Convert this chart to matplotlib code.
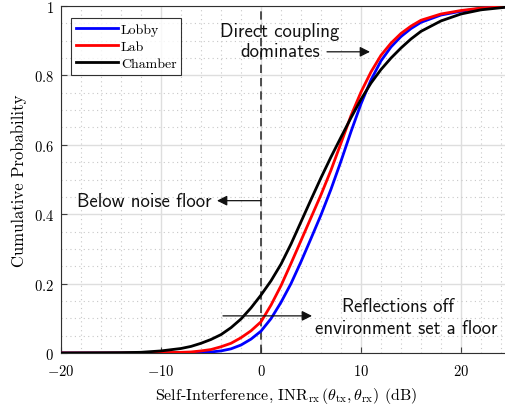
import matplotlib
matplotlib.use("Agg")
import matplotlib.pyplot as plt
from matplotlib.ticker import MultipleLocator, FixedLocator, FixedFormatter

# ---- data ----
x_db = [-20, -18, -16, -14, -12, -10, -8, -7, -6, -5, -4, -3, -2, -1, 0, 1, 2, 3, 4, 5,
        6, 7, 8, 9, 10, 11, 12, 13, 14, 15, 16, 18, 20, 22, 25]
cdf_lobby = [0.000, 0.000, 0.000, 0.000, 0.000, 0.000, 0.0005, 0.001, 0.002, 0.003, 0.006, 0.012,
             0.023, 0.040, 0.063, 0.099, 0.146, 0.200, 0.263, 0.330,
             0.398, 0.472, 0.553, 0.638, 0.718, 0.787, 0.842, 0.882, 0.912, 0.935, 0.953,
             0.974, 0.985, 0.993, 0.999]
cdf_lab = [0.000, 0.000, 0.000, 0.000, 0.0005, 0.001, 0.002, 0.003, 0.006, 0.010, 0.018, 0.028,
           0.044, 0.064, 0.090, 0.138, 0.194, 0.258, 0.324, 0.390,
           0.456, 0.527, 0.605, 0.684, 0.752, 0.810, 0.858, 0.893, 0.921, 0.942, 0.959,
           0.977, 0.987, 0.994, 0.999]
cdf_chamber = [0.000, 0.0003, 0.0006, 0.001, 0.002, 0.006, 0.013, 0.019, 0.028, 0.039, 0.053, 0.073,
               0.098, 0.130, 0.167, 0.208, 0.256, 0.314, 0.378, 0.442,
               0.505, 0.565, 0.622, 0.678, 0.731, 0.778, 0.817, 0.850, 0.879, 0.905, 0.927,
               0.957, 0.977, 0.989, 0.998]
series_names = ["Lobby", "Lab", "Chamber"]
series_colors = ["#0000ff", "#ff0000", "#000000"]

x_ticks = [-20, -10, 0, 10, 20]
x_ticklabels = [r"$-20$", r"$-10$", r"$0$", r"$10$", r"$20$"]
y_ticks = [0, 0.2, 0.4, 0.6, 0.8, 1.0]
y_ticklabels = [r"$0$", r"$0.2$", r"$0.4$", r"$0.6$", r"$0.8$", r"$1$"]

plt.rcParams["mathtext.fontset"] = "cm"
plt.rcParams["font.family"] = ["cmr10", "DejaVu Serif"]
plt.rcParams["axes.unicode_minus"] = False

fig = plt.figure(figsize=(5.05, 4.06), dpi=100)
ax = fig.add_axes([61 / 505, 52 / 406, 450 / 505, 347 / 406])

for ys, name, col in zip([cdf_lobby, cdf_lab, cdf_chamber], series_names, series_colors):
    ax.plot(x_db, ys, color=col, lw=2.0, label=name, zorder=3, solid_joinstyle="round")

ax.axvline(0, color="#333333", lw=1.2, ls=(0, (5, 3)), zorder=2)

ax.set_xlim(-20, 25)
ax.set_ylim(0, 1)
ax.xaxis.set_major_locator(FixedLocator(x_ticks))
ax.xaxis.set_major_formatter(FixedFormatter(x_ticklabels))
ax.yaxis.set_major_locator(FixedLocator(y_ticks))
ax.yaxis.set_major_formatter(FixedFormatter(y_ticklabels))
ax.xaxis.set_minor_locator(MultipleLocator(2))
ax.yaxis.set_minor_locator(MultipleLocator(0.05))
ax.grid(which="major", color="#dedede", lw=1.0, ls="-", zorder=0)
ax.grid(which="minor", color="#c8c8c8", lw=0.8, ls=(0, (1, 3)), zorder=0)
ax.set_axisbelow(True)
ax.tick_params(which="major", direction="in", length=4, width=0.8, color="#404040",
               labelsize=10.5, top=False, right=False)
ax.tick_params(axis="x", which="major", pad=7)
ax.tick_params(axis="y", which="major", pad=5)
ax.tick_params(which="minor", length=0)
for s in ax.spines.values():
    s.set_color("#303030")
    s.set_linewidth(0.8)

ax.set_ylabel("Cumulative Probability", fontsize=12, labelpad=5)
ax.set_xlabel(r"Self-Interference, $\mathrm{INR}_{\mathrm{rx}}\,(\theta_{\mathrm{tx}},\theta_{\mathrm{rx}})$ (dB)",
              fontsize=11.5, labelpad=5)

leg = ax.legend(loc="upper left", bbox_to_anchor=(10 / 450, 1 - 12 / 347), fontsize=10,
                frameon=True, fancybox=False, edgecolor="black", handlelength=3.0,
                handletextpad=0.25, borderpad=0.35, labelspacing=0.32, borderaxespad=0)
leg.get_frame().set_linewidth(0.8)

sans = ["cmss10", "DejaVu Sans"]
tkw = dict(fontsize=13.5, family=sans, color="#111111", zorder=5)
ax.text(1.9, 0.928, "Direct coupling", ha="center", va="center", **tkw)
ax.text(1.9, 0.869, "dominates", ha="center", va="center", **tkw)
ax.text(-4.95, 0.439, "Below noise floor", ha="right", va="center", **tkw)
ax.text(13.65, 0.136, "Reflections off", ha="center", va="center", **tkw)
ax.text(14.5, 0.071, "environment set a floor", ha="center", va="center", **tkw)

akw = dict(arrowstyle="-|>", color="#111111", lw=0.9, mutation_scale=15, shrinkA=0, shrinkB=0)
ax.annotate("", xy=(10.9, 0.868), xytext=(6.6, 0.868), arrowprops=akw, zorder=5)
ax.annotate("", xy=(-4.4, 0.439), xytext=(0, 0.439), arrowprops=akw, zorder=5)
ax.annotate("", xy=(5.1, 0.107), xytext=(-3.8, 0.107), arrowprops=akw, zorder=5)

fig.savefig("out.png", dpi=100)
